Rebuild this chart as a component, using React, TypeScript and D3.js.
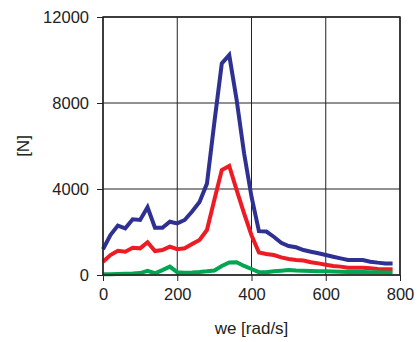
import { useEffect, useRef } from 'react';
import * as d3 from 'd3';

// we [rad/s]
const speeds = d3.range(0, 781, 20);

const blueForce = [1200, 1860, 2300, 2170, 2590, 2560, 3150, 2200, 2200, 2480,
  2400, 2560, 2950, 3400, 4250, 7100, 9840, 10230, 8140, 5660,
  3640, 2040, 2020, 1780, 1500, 1350, 1290, 1160, 1085, 1010,
  930, 850, 775, 700, 700, 700, 620, 575, 540, 540];

const redForce = [620, 930, 1130, 1085, 1270, 1240, 1520, 1115, 1160, 1320,
  1200, 1240, 1440, 1630, 2090, 3500, 4880, 5070, 3950, 2870,
  1850, 1050, 980, 930, 820, 745, 700, 670, 590, 540,
  480, 420, 390, 340, 340, 340, 310, 280, 265, 265];

const greenForce = [30, 40, 50, 60, 70, 90, 190, 80, 230, 390,
  130, 110, 120, 140, 170, 210, 420, 580, 590, 420,
  280, 130, 130, 170, 200, 230, 210, 200, 190, 180,
  170, 160, 150, 145, 140, 135, 130, 125, 120, 120];

const xTicks = [0, 200, 400, 600, 800];
const yTicks = [0, 4000, 8000, 12000];

const series = [
  { name: 'blue', color: '#2e3192', values: blueForce },
  { name: 'red', color: '#ed1c24', values: redForce },
  { name: 'green', color: '#00a651', values: greenForce },
];

const Chart = () => {
  const svgRef = useRef<SVGSVGElement>(null);

  useEffect(() => {
    document.body.style.margin = '0';
    document.body.style.overflow = 'hidden';

    const width = 417;
    const height = 342;
    const margin = { top: 17, right: 17, bottom: 67, left: 103 };
    const innerW = width - margin.left - margin.right;
    const innerH = height - margin.top - margin.bottom;

    const svg = d3.select(svgRef.current);
    svg.selectAll('*').remove();

    const g = svg.append('g')
      .attr('transform', `translate(${margin.left},${margin.top})`);

    const x = d3.scaleLinear().domain([0, 800]).range([0, innerW]);
    const y = d3.scaleLinear().domain([0, 12000]).range([innerH, 0]);

    const font = '"Liberation Sans", Arial, sans-serif';

    // grid
    g.selectAll('.vgrid')
      .data(xTicks)
      .enter().append('line')
      .attr('x1', d => x(d)).attr('x2', d => x(d))
      .attr('y1', 0).attr('y2', innerH)
      .attr('stroke', '#222').attr('stroke-width', 1);

    g.selectAll('.hgrid')
      .data(yTicks)
      .enter().append('line')
      .attr('x1', 0).attr('x2', innerW)
      .attr('y1', d => y(d)).attr('y2', d => y(d))
      .attr('stroke', '#222').attr('stroke-width', 1);

    // axes
    const xAxis = g.append('g')
      .attr('transform', `translate(0,${innerH})`)
      .call(d3.axisBottom(x).tickValues(xTicks).tickFormat(d3.format('d')).tickSize(6).tickPadding(7).tickSizeOuter(0));
    const yAxis = g.append('g')
      .call(d3.axisLeft(y).tickValues(yTicks).tickFormat(d3.format('d')).tickSize(6).tickPadding(8).tickSizeOuter(0));

    [xAxis, yAxis].forEach(a => {
      a.select('.domain').remove();
      a.selectAll('line').attr('stroke', '#222');
      a.selectAll('text')
        .style('font-family', font)
        .style('font-size', '16.5px')
        .attr('fill', '#222');
    });

    // lines
    const line = d3.line<number>()
      .x((_, i) => x(speeds[i]))
      .y(d => y(d));

    series.forEach(s => {
      g.append('path')
        .datum(s.values)
        .attr('fill', 'none')
        .attr('stroke', s.color)
        .attr('stroke-width', 4)
        .attr('stroke-linejoin', 'miter')
        .attr('d', line);
    });

    // frame
    g.append('rect')
      .attr('x', 0).attr('y', 0)
      .attr('width', innerW).attr('height', innerH)
      .attr('fill', 'none')
      .attr('stroke', '#222').attr('stroke-width', 1.5);

    // axis titles
    svg.append('text')
      .attr('x', margin.left + innerW / 2)
      .attr('y', 334)
      .attr('text-anchor', 'middle')
      .style('font-family', font)
      .style('font-size', '17px')
      .attr('fill', '#222')
      .text('we [rad/s]');

    svg.append('text')
      .attr('transform', `translate(29,${margin.top + innerH / 2}) rotate(-90)`)
      .attr('text-anchor', 'middle')
      .style('font-family', font)
      .style('font-size', '17px')
      .attr('fill', '#222')
      .text('[N]');
  }, []);

  return <svg ref={svgRef} width={417} height={342} style={{ display: 'block', overflow: 'visible' }}></svg>;
};

export default function App() {
  return <Chart />;
}
